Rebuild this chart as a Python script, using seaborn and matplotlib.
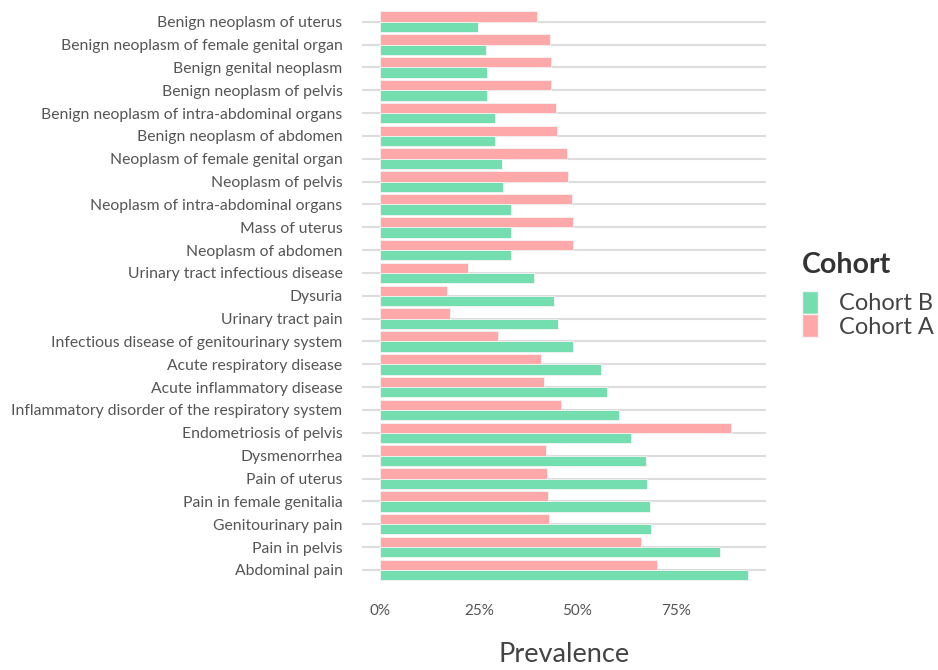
import pandas as pd
import seaborn as sns
import matplotlib.pyplot as plt
from matplotlib.patches import Patch

# Condições (de cima para baixo)
condicoes = [
    'Benign neoplasm of uterus',
    'Benign neoplasm of female genital organ',
    'Benign genital neoplasm',
    'Benign neoplasm of pelvis',
    'Benign neoplasm of intra-abdominal organs',
    'Benign neoplasm of abdomen',
    'Neoplasm of female genital organ',
    'Neoplasm of pelvis',
    'Neoplasm of intra-abdominal organs',
    'Mass of uterus',
    'Neoplasm of abdomen',
    'Urinary tract infectious disease',
    'Dysuria',
    'Urinary tract pain',
    'Infectious disease of genitourinary system',
    'Acute respiratory disease',
    'Acute inflammatory disease',
    'Inflammatory disorder of the respiratory system',
    'Endometriosis of pelvis',
    'Dysmenorrhea',
    'Pain of uterus',
    'Pain in female genitalia',
    'Genitourinary pain',
    'Pain in pelvis',
    'Abdominal pain',
]

# Prevalência (%) por coorte
cohort_a = [39.7, 43.1, 43.3, 43.3, 44.5, 44.8, 47.3, 47.6, 48.7, 48.9, 48.9,
            22.3, 16.8, 17.6, 30.0, 40.8, 41.5, 45.9, 89.2, 42.2, 42.3, 42.7,
            42.9, 66.2, 70.4]
cohort_b = [24.8, 26.7, 27.0, 27.2, 29.0, 29.2, 30.8, 31.2, 33.1, 33.2, 33.3,
            38.9, 44.2, 45.2, 48.9, 56.1, 57.5, 60.7, 63.8, 67.6, 67.7, 68.5,
            68.8, 86.4, 93.4]

x_ticks = [0, 25, 50, 75]
x_tick_labels = ['0%', '25%', '50%', '75%']

cores = {'Cohort A': '#FFA8AA', 'Cohort B': '#75DEB0'}

df = pd.DataFrame({
    'Condicao': condicoes * 2,
    'Prevalencia': cohort_a + cohort_b,
    'Cohort': ['Cohort A'] * len(condicoes) + ['Cohort B'] * len(condicoes),
})

sns.set_theme(style="white")
plt.rcParams['font.family'] = ['Lato', 'DejaVu Sans']

fig = plt.figure(figsize=(9.38, 6.7), dpi=100)
ax = fig.add_axes([0.386, 0.129, 0.431, 0.859])

# linhas de grade horizontais atrás das barras
for i in range(len(condicoes)):
    ax.axhline(i, color='#dddddd', linewidth=1.5, zorder=0)

sns.barplot(
    data=df, y='Condicao', x='Prevalencia', hue='Cohort',
    hue_order=['Cohort A', 'Cohort B'], order=condicoes,
    palette=cores, saturation=1, width=0.9, gap=0,
    edgecolor='#f4f4f4', linewidth=0.6,
    legend=False, ax=ax, zorder=2,
)

max_val = max(cohort_a + cohort_b)
ax.set_xlim(-0.05 * max_val, 1.05 * max_val)
ax.set_ylim(len(condicoes) - 0.4, -0.6)

ax.set_xticks(x_ticks)
ax.set_xticklabels(x_tick_labels)
ax.tick_params(axis='x', length=0, labelsize=11, labelcolor='#555555', pad=15)
ax.tick_params(axis='y', length=0, labelsize=11.3, labelcolor='#555555', pad=14)
ax.set_ylabel('')
ax.set_xlabel('Prevalence', fontsize=19.5, color='#444444', labelpad=17)
sns.despine(ax=ax, left=True, bottom=True)

# legenda com Cohort B primeiro
fig.text(0.855, 0.604, 'Cohort', fontsize=20.5, fontweight='bold',
         color='#333333', va='center', ha='left')
handles = [Patch(facecolor=cores['Cohort B'], edgecolor='#f4f4f4'),
           Patch(facecolor=cores['Cohort A'], edgecolor='#f4f4f4')]
fig.legend(handles, ['Cohort B', 'Cohort A'],
           loc='center left', bbox_to_anchor=(0.8555, 0.531),
           frameon=False, fontsize=17, borderpad=0, borderaxespad=0,
           handlelength=0.65, handleheight=1.1, handletextpad=0.9,
           labelspacing=0.0, labelcolor='#444444')

fig.savefig('out.png', dpi=100)
